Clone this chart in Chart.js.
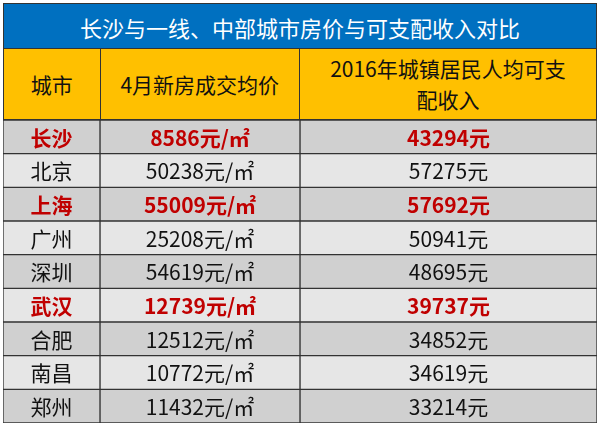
<!DOCTYPE html>
<html><head><meta charset="utf-8">
<script src="https://cdn.jsdelivr.net/npm/chart.js@4"></script>
<style>
body{margin:0;background:#fff;font-family:"Noto Sans CJK SC","Noto Sans",sans-serif;}
#wrap{position:absolute;left:3px;top:3px;width:594px;}
#title{height:46px;background:#0070c0;color:#fff;font-size:22px;line-height:46px;text-align:center;border:1px solid #333;box-sizing:border-box;}
#head{display:flex;height:71px;background:#ffc000;border:1px solid #333;border-top:none;box-sizing:border-box;}
#head div{display:flex;align-items:center;justify-content:center;text-align:center;font-size:21px;line-height:31px;color:#111;border-right:1px solid #333;box-sizing:border-box;}
#head div:last-child{border-right:none;}
#cv{position:absolute;left:3px;top:120px;width:594px;height:303px;}
</style></head><body>
<div id="wrap">
<div id="title">长沙与一线、中部城市房价与可支配收入对比</div>
<div id="head"><div style="width:97px">城市</div><div style="width:200px">4月新房成交均价</div><div style="width:297px;padding:0 22px">2016年城镇居民人均可支配收入</div></div>
</div>
<div id="cv"><canvas id="c"></canvas></div>
<script>
const cities=["长沙","北京","上海","广州","深圳","武汉","合肥","南昌","郑州"];
const prices=[8586,50238,55009,25208,54619,12739,12512,10772,11432];
const incomes=[43294,57275,57692,50941,48695,39737,34852,34619,33214];
const highlight=["长沙","上海","武汉"];
const colEdges=[0,97,297,594];
const rowColors=cities.map((c,i)=>i%2===0?"#d0d0d0":"#e6e6e6");
const texts=[cities, prices.map(v=>v+"元/㎡"), incomes.map(v=>v+"元")];
const datasets=texts.map((t,k)=>({
  data:cities.map(()=>[colEdges[k],colEdges[k+1]]),
  backgroundColor:rowColors,borderColor:"#333",borderWidth:1,borderSkipped:false,
  barPercentage:1,categoryPercentage:1,grouped:false,texts:t
}));
const textPlugin={id:"txt",afterDatasetsDraw(ch){
  const ctx=ch.ctx;
  ch.data.datasets.forEach((ds,k)=>{
    ch.getDatasetMeta(k).data.forEach((el,i)=>{
      const hl=highlight.includes(cities[i]);
      ctx.save();
      ctx.font=(hl?"bold ":"")+"21px 'Noto Sans CJK SC'";
      ctx.fillStyle=hl?"#c00000":"#111";
      ctx.textAlign="center";ctx.textBaseline="middle";
      ctx.fillText(ds.texts[i],(el.x+el.base)/2,el.y+1);
      ctx.restore();
    });
  });
}};
new Chart(document.getElementById("c"),{
  type:"bar",
  data:{labels:cities,datasets},
  options:{indexAxis:"y",responsive:true,maintainAspectRatio:false,animation:false,
    layout:{padding:0},
    plugins:{legend:{display:false},tooltip:{enabled:false}},
    scales:{x:{type:"linear",min:0,max:594,display:false},y:{display:false}}},
  plugins:[textPlugin]
});
</script>
</body></html>
